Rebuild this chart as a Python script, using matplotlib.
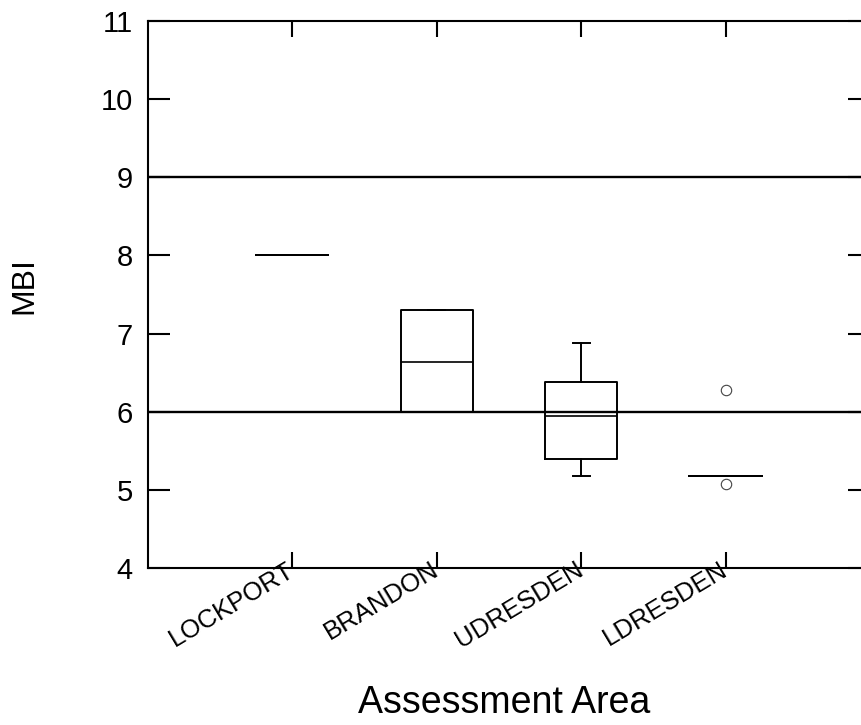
import matplotlib.pyplot as plt

areas = ["LOCKPORT", "BRANDON", "UDRESDEN", "LDRESDEN"]
medians = [8.0, 6.63, 5.95, 5.18]
q1 = [8.0, 6.0, 5.39, 5.18]
q3 = [8.0, 7.3, 6.38, 5.18]
whis_lo = [8.0, 6.0, 5.18, 5.18]
whis_hi = [8.0, 7.3, 6.88, 5.18]
outliers = [[], [], [], [6.28, 5.08]]
ref_lines = [9, 6]

plt.rcParams["font.family"] = ["Liberation Sans", "DejaVu Sans"]

fig = plt.figure(figsize=(8.62, 7.25), dpi=100)
# right spine sits just past the right edge of the picture, as in the scan
ax = fig.add_axes([148 / 862, 157 / 725, 722 / 862, 547 / 725])

stats = []
for name, m, lo, hi, wl, wh, fl in zip(areas, medians, q1, q3, whis_lo, whis_hi, outliers):
    stats.append(dict(label=name, med=m, q1=lo, q3=hi, whislo=wl, whishi=wh, fliers=fl))

line = dict(color="black", linewidth=1.4)
ax.bxp(stats, positions=range(1, len(areas) + 1), widths=0.5, capwidths=0.12,
       boxprops=line, whiskerprops=line, capprops=line,
       medianprops=dict(color="black", linewidth=1.2),
       flierprops=dict(marker="o", markerfacecolor="none", markeredgecolor="#444444",
                       markersize=7.5, markeredgewidth=0.8))

for y in ref_lines:
    ax.axhline(y, color="black", linewidth=1.7, zorder=1)

ax.set_xlim(0, 5)
ax.set_ylim(4, 11)
ax.set_yticks(range(4, 12))
ax.set_xticks(range(1, len(areas) + 1))
ax.set_xticklabels(areas, rotation=31, ha="right", va="center",
                   rotation_mode="anchor", fontsize=18.5)

for s in ax.spines.values():
    s.set_linewidth(1.5)
ax.tick_params(axis="x", direction="in", top=True, length=11.5, width=1.5, pad=0)
ax.tick_params(axis="y", direction="in", right=True, length=16, width=1.5,
               labelsize=21, pad=11)

ax.set_ylabel("MBI", fontsize=23)
ax.yaxis.set_label_coords(-0.15, 0.517)
ax.set_xlabel("Assessment Area", fontsize=27)
ax.xaxis.set_label_coords(0.493, -0.214)

fig.savefig("out.png", dpi=100)
